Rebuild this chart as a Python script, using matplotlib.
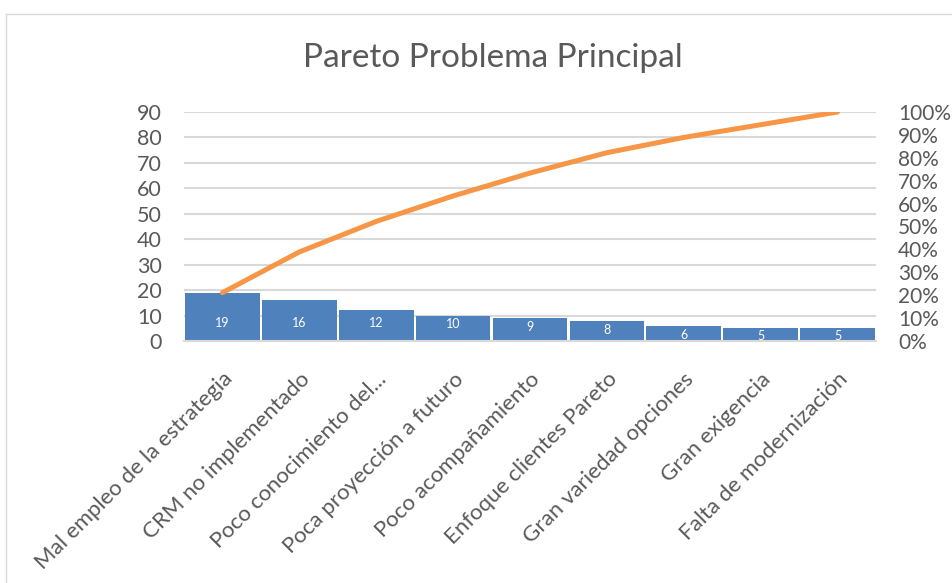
import matplotlib.pyplot as plt
from matplotlib.lines import Line2D
from matplotlib.ticker import FuncFormatter
import numpy as np

categories = ["Mal empleo de la estrategia", "CRM no implementado", "Poco conocimiento del...",
              "Poca proyección a futuro", "Poco acompañamiento", "Enfoque clientes Pareto",
              "Gran variedad opciones", "Gran exigencia", "Falta de modernización"]
counts = [19, 16, 12, 10, 9, 8, 6, 5, 5]
left_ticks = list(range(0, 100, 10))
right_ticks = [i / 10 for i in range(11)]

BAR_COLOR = "#4F81BD"
LINE_COLOR = "#F79646"
TEXT_COLOR = "#595959"
GRID_COLOR = "#D9D9D9"

plt.rcParams['font.family'] = ['Lato', 'DejaVu Sans']

W, H = 952, 583
fig = plt.figure(figsize=(W / 100, H / 100), dpi=100)
ax = fig.add_axes([184 / W, 1 - 341 / H, (876 - 184) / W, (341 - 112) / H])

# frame around the chart
fig.add_artist(Line2D([6 / W, 6 / W], [0, 1 - 14 / H], color="#D9D9D9", lw=1))
fig.add_artist(Line2D([6 / W, 1], [1 - 14 / H, 1 - 14 / H], color="#D9D9D9", lw=1))

x = np.arange(len(categories))
bars = ax.bar(x, counts, width=0.97, color=BAR_COLOR, zorder=2)
for b, v in zip(bars, counts):
    # excel puts the labels low in the bar
    ypos = max(min(7, v - 3.5), 2.1)
    ax.text(b.get_x() + b.get_width() / 2, ypos, str(v),
            ha="center", va="center", color="white", fontsize=9, zorder=3)

ax.set_xlim(-0.5, len(categories) - 0.5)
ax.set_ylim(0, 90)
ax.set_yticks(left_ticks)
ax.grid(axis="y", color=GRID_COLOR, lw=1.5, zorder=0)
ax.set_axisbelow(True)
for s in ["top", "right", "left"]:
    ax.spines[s].set_visible(False)
ax.spines["bottom"].set_color(GRID_COLOR)
ax.spines["bottom"].set_linewidth(1.5)
ax.tick_params(axis="both", length=0, colors=TEXT_COLOR)
ax.tick_params(axis="y", labelsize=15.5, pad=16)
ax.set_xticks(x)
ax.set_xticklabels(categories, rotation=45, ha="right", rotation_mode="anchor",
                   fontsize=16, color=TEXT_COLOR)
ax.tick_params(axis="x", pad=20)

cum = np.cumsum(counts) / sum(counts)
ax2 = ax.twinx()
ax2.plot(x, cum, color=LINE_COLOR, lw=3.6, solid_capstyle="round", zorder=4)
ax2.set_ylim(0, 1)
ax2.set_yticks(right_ticks)
ax2.yaxis.set_major_formatter(FuncFormatter(lambda v, p: f"{v * 100:.0f}%"))
ax2.tick_params(axis="y", length=0, labelsize=15, colors=TEXT_COLOR, pad=16)
for s in ax2.spines.values():
    s.set_visible(False)

fig.text(493 / W, 1 - 58 / H, "Pareto Problema Principal", ha="center", va="center",
         fontsize=24, color=TEXT_COLOR)

fig.savefig("out.png", dpi=100)
